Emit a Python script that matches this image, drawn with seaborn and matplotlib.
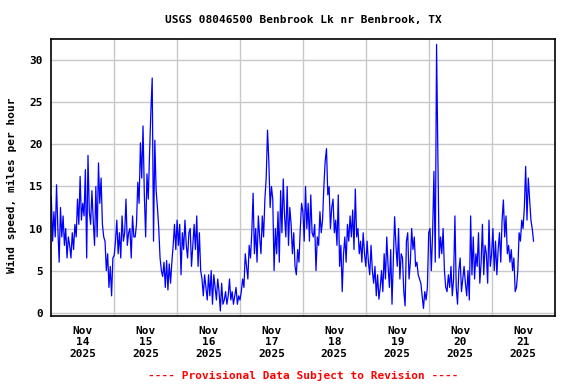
#!/usr/bin/env python3
import numpy as np
import matplotlib
matplotlib.use("Agg")
import matplotlib.pyplot as plt
import matplotlib.dates as mdates
import pandas as pd
import seaborn as sns

plt.rcParams['font.family'] = ['DejaVu Sans Mono']
plt.rcParams['font.weight'] = 'bold'
plt.rcParams['font.size'] = 8

TITLE = "USGS 08046500 Benbrook Lk nr Benbrook, TX"
YLABEL = "Wind speed, miles per hour"
FOOTER = "---- Provisional Data Subject to Revision ----"
START = "2025-11-14 00:00"

# wind speed, mph, every 30 min
nov14 = [13.8, 8.5, 12.0, 9.0, 15.2, 10.0, 6.0, 12.5, 9.0, 11.5, 8.0, 10.0,
         6.5, 9.0, 8.0, 6.5, 9.5, 7.5, 10.5, 9.0, 13.5, 10.5, 16.2, 11.0,
         13.0, 11.5, 17.0, 6.5, 18.7, 12.0, 10.5, 14.5, 11.0, 8.0, 15.0, 9.0,
         17.8, 13.0, 16.0, 10.5, 9.0, 8.5, 5.0, 7.0, 3.0, 5.5, 2.0, 6.5]
nov15 = [6.8, 8.5, 11.0, 7.0, 9.5, 6.5, 11.5, 8.5, 9.5, 13.5, 8.0, 9.5,
         10.0, 6.5, 11.5, 9.0, 9.0, 10.5, 15.5, 13.0, 20.2, 16.0, 22.2, 14.0,
         9.0, 16.5, 13.5, 19.0, 24.0, 27.9, 8.5, 20.5, 14.5, 12.5, 10.0, 6.5,
         5.0, 4.3, 6.0, 3.0, 6.2, 2.7, 5.8, 3.5, 6.0, 8.0, 10.5, 7.5]
nov16 = [11.0, 8.0, 10.5, 4.5, 9.5, 7.5, 11.0, 8.0, 6.5, 9.5, 10.0, 5.5,
         8.0, 10.5, 7.5, 11.5, 5.5, 9.5, 5.0, 4.0, 2.0, 4.5, 3.0, 1.5,
         4.5, 2.0, 5.0, 1.0, 4.5, 3.0, 1.5, 4.0, 2.5, 0.2, 3.5, 1.0,
         1.5, 2.5, 1.0, 2.0, 4.0, 1.5, 2.5, 1.0, 2.0, 3.0, 1.0, 2.0]
nov17 = [1.5, 2.5, 4.0, 3.0, 7.0, 5.5, 4.0, 8.0, 6.5, 9.5, 14.2, 7.0,
         10.0, 6.0, 11.5, 9.0, 7.0, 11.5, 9.0, 13.5, 16.0, 21.7, 18.0, 12.5,
         15.0, 13.5, 5.0, 10.0, 7.0, 12.0, 6.0, 14.5, 9.5, 15.9, 11.5, 9.0,
         15.0, 8.0, 12.5, 10.5, 7.0, 9.5, 5.5, 4.5, 7.5, 6.0, 10.0, 13.0]
nov18 = [12.0, 8.5, 15.0, 10.0, 13.0, 8.5, 14.0, 9.5, 9.0, 10.5, 5.0, 9.0,
         8.0, 12.0, 9.5, 11.0, 15.0, 18.0, 19.5, 14.0, 15.0, 10.0, 12.5, 13.5,
         9.5, 11.0, 8.0, 14.0, 5.5, 8.0, 2.5, 7.0, 9.0, 6.0, 10.5, 8.5,
         11.5, 9.0, 12.2, 7.5, 14.7, 9.0, 10.0, 7.0, 8.5, 6.0, 9.5, 7.0]
nov19 = [5.5, 8.5, 6.0, 4.5, 8.0, 5.0, 3.5, 5.5, 2.0, 4.5, 1.6, 3.0,
         5.0, 2.5, 7.0, 4.0, 9.0, 5.5, 3.0, 7.5, 1.0, 6.0, 11.4, 8.0,
         5.5, 10.0, 4.0, 7.0, 6.5, 2.5, 0.8, 8.5, 9.5, 4.0, 6.0, 10.0,
         7.5, 9.0, 5.5, 6.0, 4.5, 4.0, 3.5, 2.0, 0.5, 2.5, 1.5, 3.0]
nov20 = [9.5, 10.0, 5.0, 9.5, 16.8, 6.0, 31.9, 18.6, 6.5, 9.0, 7.0, 10.0,
         5.0, 3.0, 2.5, 4.5, 3.0, 5.5, 2.0, 4.0, 11.5, 3.0, 1.0, 5.0,
         6.5, 2.5, 4.0, 5.5, 3.5, 2.0, 5.0, 1.5, 11.5, 4.5, 9.0, 4.0,
         7.0, 5.5, 9.5, 3.5, 6.0, 10.5, 4.5, 8.0, 7.0, 3.5, 11.0, 5.5]
nov21 = [7.0, 10.0, 5.0, 8.5, 4.5, 7.5, 9.5, 6.0, 11.0, 13.4, 9.0, 11.5,
         7.0, 8.0, 6.0, 7.5, 5.0, 6.5, 2.5, 3.0, 5.0, 9.5, 8.5, 11.0,
         10.0, 12.5, 17.4, 11.0, 16.0, 13.5, 11.0, 10.0, 8.5]

days = ["Nov\n14\n2025", "Nov\n15\n2025", "Nov\n16\n2025", "Nov\n17\n2025",
        "Nov\n18\n2025", "Nov\n19\n2025", "Nov\n20\n2025", "Nov\n21\n2025"]
yticks = [0, 5, 10, 15, 20, 25, 30]

speed = nov14 + nov15 + nov16 + nov17 + nov18 + nov19 + nov20 + nov21
df = pd.DataFrame({
    "time": pd.date_range(START, periods=len(speed), freq="30min"),
    "speed": speed,
})

fig = plt.figure(figsize=(5.76, 3.84), dpi=100)
ax = fig.add_axes([51.3 / 576, 1 - 316 / 384, (554.5 - 51.3) / 576, (316 - 39.3) / 384])

sns.lineplot(data=df, x="time", y="speed", color="#0000ff", linewidth=0.9, ax=ax)

t0 = pd.Timestamp(START)
midnights = pd.date_range(t0, periods=len(days) + 1, freq="D")
noons = midnights[:-1] + pd.Timedelta(hours=12)
ax.set_xlim(midnights[0], midnights[-1])
ax.set_ylim(-0.4, 32.5)

ax.set_xticks(noons)
ax.set_xticklabels(days, linespacing=1.2)
ax.set_xticks(midnights[1:-1], minor=True)
ax.set_yticks(yticks)
ax.tick_params(axis="x", which="both", length=0, pad=7)
ax.tick_params(axis="y", length=0, pad=6)
ax.grid(axis="x", which="minor", color="#c8c8c8", linewidth=1)
ax.grid(axis="y", which="major", color="#c8c8c8", linewidth=1)
ax.grid(axis="x", which="major", visible=False)
ax.set_axisbelow(True)
ax.set_xlabel("")
ax.set_ylabel("")
for s in ax.spines.values():
    s.set_linewidth(1.2)
    s.set_color("black")

cx = (51.3 + 554.5) / 2 / 576
fig.text(cx, 1 - 20 / 384, TITLE, ha="center", va="center")
fig.text(12 / 576, 1 - 185 / 384, YLABEL, rotation=90, ha="center", va="center")
fig.text(cx, 1 - 375 / 384, FOOTER, ha="center", va="center", color="red")

fig.savefig("out.png", dpi=100)
